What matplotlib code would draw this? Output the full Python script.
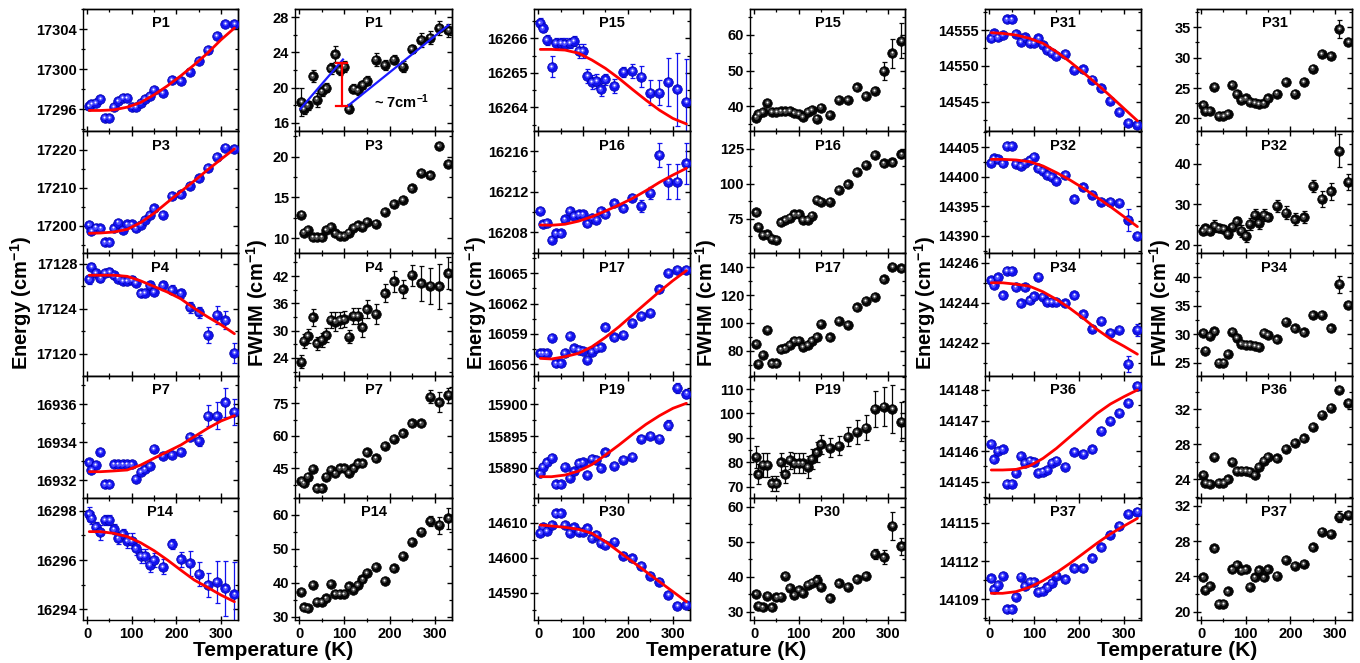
import matplotlib
matplotlib.use('Agg')
import matplotlib.pyplot as plt
import matplotlib.transforms as mtransforms
from matplotlib.ticker import FixedLocator, MultipleLocator, NullFormatter

plt.rcParams['font.family'] = ['Liberation Sans', 'DejaVu Sans']
plt.rcParams['font.weight'] = 'bold'
plt.rcParams['mathtext.fontset'] = 'custom'
plt.rcParams['mathtext.rm'] = 'Liberation Sans:bold'
plt.rcParams['mathtext.bf'] = 'Liberation Sans:bold'
plt.rcParams['mathtext.default'] = 'bf'

# ---------------- data ----------------
T = [5, 10, 20, 30, 40, 50, 60, 70, 80, 90, 100, 110, 120, 130, 140, 150,
     170, 190, 210, 230, 250, 270, 290, 310, 330]
T_fit = [5, 30, 60, 90, 120, 150, 180, 210, 240, 270, 300, 330]
x_ticks = [0, 100, 200, 300]

p1_E = [17296.3, 17296.5, 17296.6, 17297.0, 17295.1, 17295.1, 17296.2, 17296.8, 17297.1, 17297.1, 17296.2, 17296.2, 17296.6, 17297.0, 17297.3, 17297.9, 17297.6, 17298.9, 17298.8, 17299.7, 17300.8, 17301.9, 17303.3, 17304.5, 17304.5]
p1_fit = [17295.87, 17295.87, 17295.93, 17296.2, 17296.67, 17297.43, 17298.33, 17299.33, 17300.43, 17301.6, 17302.93, 17304.1]
p1_W = [18.4, 17.6, 18.0, 21.3, 18.65, 19.6, 20.0, 22.2, 23.8, 22.0, 22.4, 17.6, 19.9, 19.7, 20.3, 20.8, 23.2, 22.6, 23.2, 22.4, 24.4, 25.4, 25.7, 26.8, 26.5]
p1_W_err = [1.6, 0.6, 0.5, 0.7, 0.8, 0.5, 0.5, 0.6, 0.9, 0.6, 0.6, 0.5, 0.5, 0.5, 0.5, 0.5, 0.7, 0.6, 0.5, 0.6, 0.5, 0.8, 0.7, 0.8, 0.7]

p3_E = [17200.3, 17198.7, 17199.6, 17199.4, 17195.7, 17195.7, 17199.4, 17200.9, 17198.9, 17200.4, 17200.4, 17199.4, 17200.3, 17201.6, 17202.9, 17204.6, 17202.9, 17207.9, 17208.3, 17210.5, 17212.5, 17215.2, 17218.2, 17220.6, 17220.3]
p3_fit = [17198.07, 17198.16, 17198.42, 17199.12, 17200.88, 17203.33, 17206.23, 17209.04, 17211.84, 17214.74, 17217.54, 17220.26]
p3_W = [12.9, 10.7, 11.0, 10.1, 10.1, 10.1, 11.0, 11.4, 10.6, 10.3, 10.3, 10.7, 11.3, 11.6, 11.4, 12.0, 11.8, 13.2, 14.2, 14.7, 16.1, 18.0, 17.7, 21.3, 19.1]

p4_E = [17126.64, 17127.76, 17127.23, 17126.73, 17127.2, 17127.3, 17127.0, 17126.7, 17126.5, 17126.5, 17126.6, 17126.3, 17125.4, 17125.45, 17126.1, 17125.5, 17126.1, 17125.7, 17125.4, 17124.15, 17123.7, 17121.7, 17123.5, 17123.0, 17120.1]
p4_E_err = [0.4, 0.3, 0.3, 0.3, 0.3, 0.3, 0.3, 0.3, 0.3, 0.3, 0.3, 0.3, 0.3, 0.3, 0.4, 0.3, 0.4, 0.4, 0.4, 0.5, 0.5, 0.7, 0.8, 0.8, 0.9]
p4_fit = [17127.0, 17127.0, 17127.0, 17126.9, 17126.5, 17126.0, 17125.5, 17124.9, 17124.06, 17123.3, 17122.6, 17121.8]
p4_W = [23.2, 27.8, 28.8, 32.9, 27.2, 28.0, 29.1, 32.4, 32.0, 32.4, 32.5, 28.7, 33.2, 33.2, 30.7, 34.7, 33.7, 38.2, 40.8, 39.1, 42.2, 40.4, 39.8, 39.7, 42.6]
p4_W_err = [1.5, 1.5, 1.5, 1.8, 1.5, 1.5, 1.5, 1.8, 2.0, 1.8, 1.8, 1.5, 1.8, 1.8, 2.0, 2.0, 2.2, 2.0, 2.2, 2.0, 2.3, 3.8, 4.0, 5.0, 3.5]

p7_E = [16932.93, 16932.53, 16932.8, 16933.5, 16931.77, 16931.77, 16932.83, 16932.83, 16932.83, 16932.83, 16932.83, 16932.05, 16932.44, 16932.56, 16932.76, 16933.64, 16933.27, 16933.32, 16933.5, 16934.29, 16934.08, 16935.4, 16935.4, 16936.1, 16935.6]
p7_E_err = [0.05, 0.05, 0.05, 0.05, 0.05, 0.05, 0.05, 0.05, 0.05, 0.05, 0.05, 0.05, 0.05, 0.05, 0.05, 0.05, 0.05, 0.05, 0.05, 0.15, 0.3, 0.55, 0.7, 0.75, 0.68]
p7_fit = [16932.44, 16932.44, 16932.48, 16932.53, 16932.79, 16933.15, 16933.5, 16933.85, 16934.29, 16934.73, 16935.12, 16935.4]
p7_W = [39.2, 38.1, 41.2, 44.7, 35.8, 35.8, 41.2, 44.2, 42.7, 45.0, 45.0, 43.0, 45.0, 47.3, 47.3, 52.4, 49.6, 55.3, 58.5, 61.2, 65.8, 65.8, 78.1, 75.5, 78.8]
p7_W_err = [0.0, 0.0, 0.0, 0.0, 0.0, 0.0, 0.0, 0.0, 0.0, 0.0, 0.0, 0.0, 0.0, 0.0, 0.0, 0.0, 0.0, 0.0, 0.0, 0.0, 0.0, 1.0, 3.0, 4.5, 3.5]

p14_E = [16297.86, 16297.69, 16297.35, 16297.12, 16297.62, 16297.62, 16297.24, 16296.88, 16297.05, 16296.78, 16296.78, 16296.47, 16296.16, 16296.16, 16295.8, 16296.0, 16295.73, 16296.64, 16296.03, 16295.86, 16295.43, 16294.99, 16295.12, 16294.85, 16294.61]
p14_E_err = [0.3, 0.25, 0.2, 0.3, 0.2, 0.2, 0.2, 0.25, 0.2, 0.3, 0.3, 0.25, 0.3, 0.3, 0.3, 0.3, 0.3, 0.2, 0.3, 0.5, 0.5, 0.5, 0.85, 1.1, 1.3]
p14_fit = [16297.15, 16297.15, 16297.08, 16296.95, 16296.7, 16296.38, 16296.0, 16295.59, 16295.19, 16294.89, 16294.58, 16294.31]
p14_W = [37.4, 32.8, 32.5, 39.3, 34.4, 34.4, 35.4, 39.6, 36.7, 36.7, 36.7, 39.0, 37.9, 39.3, 41.0, 43.0, 44.7, 40.5, 44.3, 47.9, 52.1, 55.1, 58.3, 57.0, 59.0]
p14_W_err = [0.0, 0.0, 0.0, 0.0, 0.0, 0.0, 0.0, 0.0, 0.0, 0.0, 0.0, 0.0, 0.0, 0.0, 0.0, 0.0, 0.0, 0.0, 0.0, 0.0, 0.0, 1.0, 1.5, 2.5, 3.0]

p15_E = [16266.45, 16266.29, 16265.95, 16265.18, 16265.87, 16265.87, 16265.85, 16265.87, 16265.93, 16265.64, 16265.64, 16264.91, 16264.74, 16264.77, 16264.52, 16264.81, 16264.62, 16265.03, 16265.06, 16264.89, 16264.43, 16264.43, 16264.74, 16264.52, 16264.16]
p15_E_err = [0.15, 0.1, 0.15, 0.3, 0.15, 0.15, 0.15, 0.15, 0.15, 0.2, 0.2, 0.2, 0.2, 0.2, 0.2, 0.15, 0.2, 0.15, 0.2, 0.3, 0.35, 0.35, 0.7, 1.05, 1.25]
p15_fit = [16265.68, 16265.68, 16265.66, 16265.57, 16265.37, 16265.13, 16264.84, 16264.52, 16264.21, 16263.92, 16263.68, 16263.52]
p15_W = [36.8, 37.9, 38.4, 40.9, 38.4, 38.4, 38.5, 38.5, 38.6, 38.1, 37.9, 37.0, 38.4, 38.9, 36.5, 39.6, 37.5, 41.7, 41.7, 45.3, 42.8, 44.3, 49.9, 54.8, 58.4]
p15_W_err = [0.0, 0.0, 0.0, 0.0, 0.0, 0.0, 0.0, 0.0, 0.0, 0.0, 0.0, 0.0, 0.0, 0.0, 0.0, 0.0, 0.0, 0.0, 0.0, 0.0, 0.0, 1.0, 2.5, 4.0, 5.0]

p16_E = [16210.1, 16208.8, 16208.95, 16207.25, 16207.9, 16207.9, 16209.28, 16210.1, 16209.64, 16209.77, 16209.77, 16208.9, 16209.4, 16209.2, 16210.1, 16209.77, 16210.85, 16210.36, 16211.4, 16210.6, 16211.9, 16215.6, 16213.0, 16213.0, 16214.8]
p16_E_err = [0.3, 0.3, 0.3, 0.3, 0.3, 0.3, 0.3, 0.3, 0.3, 0.3, 0.3, 0.3, 0.3, 0.3, 0.3, 0.3, 0.3, 0.3, 0.3, 0.6, 0.6, 1.2, 1.7, 1.7, 2.0]
p16_fit = [16208.72, 16208.7, 16208.8, 16209.1, 16209.54, 16210.1, 16210.69, 16211.34, 16212.1, 16212.92, 16213.64, 16214.3]
p16_W = [79.8, 69.5, 63.6, 64.0, 60.7, 60.0, 72.6, 74.3, 76.0, 78.3, 78.3, 74.3, 74.3, 77.4, 88.6, 87.4, 87.4, 95.7, 99.8, 108.8, 113.6, 120.7, 114.8, 115.5, 121.2]
p16_W_err = [0.0, 0.0, 0.0, 0.0, 0.0, 0.0, 0.0, 0.0, 0.0, 0.0, 0.0, 0.0, 0.0, 0.0, 0.0, 0.0, 0.0, 0.0, 0.0, 0.0, 0.0, 0.0, 2.0, 3.0, 3.0]

p17_E = [16057.06, 16057.06, 16057.06, 16058.6, 16056.07, 16056.07, 16057.13, 16058.78, 16057.56, 16057.4, 16057.32, 16056.4, 16057.2, 16057.56, 16057.66, 16059.64, 16058.65, 16058.88, 16060.1, 16060.77, 16061.1, 16063.42, 16065.07, 16065.34, 16065.34]
p17_fit = [16056.56, 16056.5, 16056.73, 16057.06, 16057.72, 16058.65, 16059.7, 16060.87, 16062.03, 16063.19, 16064.28, 16065.27]
p17_W = [84.8, 70.4, 76.9, 94.9, 70.9, 70.9, 81.0, 81.7, 84.1, 87.2, 87.2, 82.9, 84.1, 87.2, 90.1, 99.2, 89.6, 101.6, 98.5, 111.2, 116.0, 118.8, 131.3, 140.4, 139.2]

p19_E = [15889.1, 15890.16, 15890.84, 15891.58, 15887.37, 15887.37, 15890.16, 15888.4, 15889.4, 15890.7, 15890.84, 15888.9, 15891.37, 15891.2, 15889.9, 15892.4, 15890.3, 15891.2, 15891.74, 15894.5, 15895.05, 15894.6, 15896.7, 15902.6, 15901.7]
p19_E_err = [0.3, 0.3, 0.3, 0.3, 0.3, 0.3, 0.3, 0.3, 0.3, 0.3, 0.3, 0.3, 0.3, 0.3, 0.3, 0.3, 0.3, 0.3, 0.3, 0.3, 0.5, 0.5, 0.8, 0.8, 0.7]
p19_fit = [15888.58, 15888.58, 15888.84, 15889.47, 15890.5, 15892.0, 15893.58, 15895.26, 15896.84, 15898.2, 15899.37, 15900.16]
p19_W = [82.3, 75.1, 78.9, 78.9, 71.4, 71.4, 80.0, 75.1, 80.9, 79.6, 79.6, 79.6, 78.2, 81.3, 84.1, 87.3, 86.0, 86.8, 90.5, 92.5, 94.2, 101.8, 102.8, 101.8, 96.6]
p19_W_err = [4.5, 4.0, 5.0, 5.0, 3.0, 3.0, 4.0, 3.5, 3.5, 4.0, 4.0, 4.0, 4.5, 4.0, 4.0, 4.0, 4.0, 4.0, 4.0, 5.0, 5.0, 7.5, 8.0, 10.0, 8.0]

p30_E = [14607.1, 14608.9, 14607.7, 14609.3, 14612.7, 14612.7, 14609.3, 14607.0, 14608.7, 14607.4, 14607.4, 14608.4, 14605.5, 14606.5, 14604.3, 14603.6, 14604.6, 14600.5, 14599.8, 14597.6, 14594.8, 14593.1, 14589.3, 14586.2, 14586.5]
p30_fit = [14609.33, 14609.05, 14608.67, 14608.1, 14606.95, 14604.57, 14601.7, 14598.86, 14596.0, 14593.14, 14590.3, 14587.43]
p30_W = [35.05, 31.6, 31.2, 34.5, 31.2, 34.1, 34.3, 40.2, 36.7, 34.8, 36.2, 35.4, 37.6, 38.3, 38.9, 37.0, 33.8, 38.1, 37.1, 39.2, 40.2, 46.5, 45.5, 54.5, 48.6]
p30_W_err = [0.0, 0.0, 0.0, 0.0, 0.0, 0.0, 0.0, 0.0, 0.0, 0.0, 0.0, 0.0, 0.0, 0.0, 1.5, 0.0, 0.0, 0.0, 0.0, 0.0, 1.0, 1.5, 2.0, 4.0, 2.5]

p31_E = [14553.84, 14554.53, 14553.98, 14554.3, 14556.5, 14556.5, 14554.44, 14553.37, 14553.98, 14553.23, 14553.23, 14553.84, 14552.9, 14552.2, 14551.84, 14551.37, 14551.65, 14549.42, 14549.5, 14548.1, 14546.86, 14545.14, 14543.6, 14542.07, 14541.74]
p31_fit = [14554.63, 14554.53, 14554.3, 14553.84, 14553.14, 14551.98, 14550.58, 14549.05, 14547.47, 14545.8, 14544.07, 14542.35]
p31_W = [22.2, 21.26, 21.26, 25.2, 20.4, 20.4, 20.7, 25.5, 24.0, 23.0, 23.3, 22.7, 22.6, 22.4, 22.5, 23.3, 24.1, 26.0, 24.1, 26.0, 28.2, 30.6, 30.3, 34.7, 32.6]
p31_W_err = [0.0, 0.0, 0.0, 0.0, 0.0, 0.0, 0.0, 0.0, 0.0, 0.0, 0.0, 0.0, 0.0, 0.0, 0.0, 0.0, 0.0, 0.0, 0.0, 0.0, 0.0, 0.0, 0.0, 1.5, 0.0]

p32_E = [14402.39, 14403.12, 14402.95, 14402.27, 14405.2, 14405.2, 14402.16, 14401.82, 14402.39, 14402.8, 14403.4, 14401.43, 14401.04, 14400.3, 14400.02, 14399.35, 14400.3, 14396.2, 14398.2, 14396.9, 14395.8, 14395.8, 14395.6, 14392.7, 14390.0]
p32_E_err = [0.0, 0.0, 0.0, 0.0, 0.0, 0.0, 0.0, 0.0, 0.0, 0.0, 0.0, 0.0, 0.0, 0.0, 0.0, 0.0, 0.0, 0.0, 0.0, 0.0, 0.0, 0.0, 0.0, 1.8, 0.0]
p32_fit = [14402.95, 14402.95, 14402.84, 14402.56, 14401.82, 14400.7, 14399.46, 14398.05, 14396.53, 14394.95, 14393.27, 14391.58]
p32_W = [23.5, 24.1, 23.5, 24.7, 24.1, 23.9, 22.7, 24.5, 25.8, 23.5, 22.2, 25.2, 27.4, 25.5, 27.4, 26.8, 29.6, 28.0, 26.3, 26.8, 34.6, 31.3, 33.2, 43.3, 35.6]
p32_W_err = [1.0, 1.0, 1.0, 1.5, 1.0, 1.0, 1.0, 1.0, 1.0, 1.5, 1.5, 1.5, 1.5, 1.5, 1.5, 1.0, 1.5, 1.5, 1.5, 1.5, 1.5, 2.0, 2.0, 4.0, 2.0]

p34_E = [14245.13, 14244.88, 14245.27, 14244.38, 14245.6, 14245.6, 14244.77, 14243.97, 14244.77, 14244.13, 14244.33, 14245.3, 14244.3, 14244.05, 14244.05, 14244.05, 14243.97, 14244.38, 14243.43, 14242.7, 14243.1, 14242.5, 14242.65, 14240.95, 14242.65]
p34_E_err = [0.0, 0.0, 0.0, 0.0, 0.0, 0.0, 0.0, 0.0, 0.0, 0.0, 0.0, 0.0, 0.0, 0.0, 0.0, 0.0, 0.0, 0.0, 0.0, 0.0, 0.0, 0.0, 0.0, 0.4, 0.3]
p34_fit = [14245.0, 14245.0, 14244.93, 14244.83, 14244.55, 14244.17, 14243.72, 14243.22, 14242.67, 14242.2, 14241.83, 14241.43]
p34_W = [30.2, 27.1, 29.7, 30.5, 25.0, 25.0, 26.5, 30.4, 29.3, 28.3, 28.1, 28.1, 27.9, 27.8, 30.2, 29.9, 29.1, 32.2, 31.0, 30.3, 33.4, 33.4, 31.0, 38.8, 35.1]
p34_W_err = [0.0, 0.0, 0.0, 0.0, 0.0, 0.0, 0.0, 0.0, 0.0, 0.0, 0.0, 0.0, 0.0, 0.0, 0.0, 0.0, 0.0, 0.0, 0.0, 0.0, 0.0, 0.0, 0.0, 1.5, 0.0]

p36_E = [14146.23, 14145.73, 14146.01, 14146.06, 14144.92, 14144.92, 14145.29, 14145.84, 14145.62, 14145.69, 14145.65, 14145.29, 14145.33, 14145.38, 14145.62, 14145.69, 14145.49, 14145.98, 14145.9, 14146.06, 14146.67, 14146.99, 14147.25, 14147.58, 14148.13]
p36_fit = [14145.38, 14145.38, 14145.4, 14145.51, 14145.76, 14146.09, 14146.47, 14146.85, 14147.23, 14147.54, 14147.78, 14148.0]
p36_W = [24.5, 23.6, 23.5, 26.6, 23.6, 23.6, 24.0, 26.0, 25.0, 25.0, 25.0, 24.9, 24.5, 25.4, 26.1, 26.6, 26.4, 27.5, 28.2, 28.7, 30.0, 31.4, 32.2, 34.2, 32.7]

p37_E = [14110.64, 14109.78, 14110.12, 14110.83, 14108.22, 14108.22, 14109.21, 14110.78, 14110.04, 14110.38, 14110.38, 14109.6, 14109.68, 14109.94, 14110.31, 14110.83, 14110.57, 14111.43, 14111.43, 14112.21, 14113.07, 14114.04, 14114.74, 14115.68, 14115.87]
p37_fit = [14109.47, 14109.47, 14109.6, 14109.94, 14110.46, 14111.09, 14111.82, 14112.6, 14113.39, 14114.12, 14114.74, 14115.34]
p37_W = [23.9, 22.5, 22.9, 27.2, 20.9, 20.9, 22.3, 24.8, 25.3, 24.7, 24.8, 22.8, 23.9, 24.7, 23.9, 24.8, 24.1, 25.9, 25.2, 25.4, 27.3, 29.1, 28.8, 30.8, 31.0]
p37_W_err = [0.0, 0.0, 0.0, 0.0, 0.0, 0.0, 0.0, 0.0, 0.0, 0.0, 0.0, 0.0, 0.0, 0.0, 0.0, 0.0, 0.0, 0.0, 0.0, 0.0, 0.0, 0.0, 0.0, 0.6, 0.0]

# annotation in the P1 FWHM panel
p1_jump_label = '~ 7cm$^{-1}$'
p1_line_low = ([3, 97], [17.6, 23.2])
p1_line_high = ([107, 330], [17.9, 27.1])
p1_jump = (94, 17.9, 22.75)

# ---------------- layout ----------------
W, H = 1360, 663
fig = plt.figure(figsize=(W / 100, H / 100), dpi=100)
COLS = [(83, 238), (295, 452), (534, 690), (750, 905), (985, 1141), (1197, 1352)]
TOP, RH = 9, 122.2
XLIM = (-9, 338)

# (col, row, title, values, errors, fit, ylim, yticks, minor step, kind)
panels = [
    (0, 0, 'P1', p1_E, None, p1_fit, (17293.8, 17306.0), [17296, 17300, 17304], 2, 'E'),
    (1, 0, 'P1', p1_W, p1_W_err, None, (15.06, 28.94), [16, 20, 24, 28], 2, 'W'),
    (0, 1, 'P3', p3_E, None, p3_fit, (17192.8, 17224.9), [17200, 17210, 17220], 5, 'E'),
    (1, 1, 'P3', p3_W, None, None, (8.15, 23.1), [10, 15, 20], 2.5, 'W'),
    (0, 2, 'P4', p4_E, p4_E_err, p4_fit, (17118.08, 17128.94), [17120, 17124, 17128], 2, 'E'),
    (1, 2, 'P4', p4_W, p4_W_err, None, (20.13, 46.97), [24, 30, 36, 42], 3, 'W'),
    (0, 3, 'P7', p7_E, p7_E_err, p7_fit, (16931.06, 16937.52), [16932, 16934, 16936], 1, 'E'),
    (1, 3, 'P7', p7_W, p7_W_err, None, (31.4, 87.8), [45, 60, 75], 7.5, 'W'),
    (0, 4, 'P14', p14_E, p14_E_err, p14_fit, (16293.57, 16298.52), [16294, 16296, 16298], 1, 'E'),
    (1, 4, 'P14', p14_W, p14_W_err, None, (29.03, 65.07), [30, 40, 50, 60], 5, 'W'),
    (2, 0, 'P15', p15_E, p15_E_err, p15_fit, (16263.31, 16266.85), [16264, 16265, 16266], 0.5, 'E'),
    (3, 0, 'P15', p15_W, p15_W_err, None, (32.96, 67.3), [40, 50, 60], 5, 'W'),
    (2, 1, 'P16', p16_E, p16_E_err, p16_fit, (16205.93, 16217.95), [16208, 16212, 16216], 2, 'E'),
    (3, 1, 'P16', p16_W, p16_W_err, None, (50.4, 137.7), [75, 100, 125], 12.5, 'W'),
    (2, 2, 'P17', p17_E, None, p17_fit, (16054.85, 16066.98), [16056, 16059, 16062, 16065], 1.5, 'E'),
    (3, 2, 'P17', p17_W, None, None, (62.1, 150.0), [80, 100, 120, 140], 10, 'W'),
    (2, 3, 'P19', p19_E, p19_E_err, p19_fit, (15885.25, 15904.53), [15890, 15895, 15900], 2.5, 'E'),
    (3, 3, 'P19', p19_W, p19_W_err, None, (65.45, 115.5), [70, 80, 90, 100, 110], 5, 'W'),
    (2, 4, 'P30', p30_E, None, p30_fit, (14582.2, 14617.1), [14590, 14600, 14610], 5, 'E'),
    (3, 4, 'P30', p30_W, p30_W_err, None, (27.6, 62.5), [30, 40, 50, 60], 5, 'W'),
    (4, 0, 'P31', p31_E, None, p31_fit, (14540.9, 14557.93), [14545, 14550, 14555], 2.5, 'E'),
    (5, 0, 'P31', p31_W, p31_W_err, None, (17.9, 38.0), [20, 25, 30, 35], 2.5, 'W'),
    (4, 1, 'P32', p32_E, p32_E_err, p32_fit, (14387.06, 14407.7), [14390, 14395, 14400, 14405], 2.5, 'E'),
    (5, 1, 'P32', p32_W, p32_W_err, None, (17.9, 48.1), [20, 30, 40], 5, 'W'),
    (4, 2, 'P34', p34_E, p34_E_err, p34_fit, (14240.36, 14246.47), [14242, 14244, 14246], 1, 'E'),
    (5, 2, 'P34', p34_W, p34_W_err, None, (22.7, 44.2), [25, 30, 35, 40], 2.5, 'W'),
    (4, 3, 'P36', p36_E, None, p36_fit, (14144.47, 14148.47), [14145, 14146, 14147, 14148], 0.5, 'E'),
    (5, 3, 'P36', p36_W, None, None, (21.9, 35.85), [24, 28, 32], 2, 'W'),
    (4, 4, 'P37', p37_E, None, p37_fit, (14107.38, 14116.95), [14109, 14112, 14115], 1.5, 'E'),
    (5, 4, 'P37', p37_W, p37_W_err, None, (19.06, 32.93), [20, 24, 28, 32], 2, 'W'),
]


def add_panel(c, r):
    l, rr = COLS[c]
    top = TOP + r * RH
    return fig.add_axes([l / W, 1 - (top + RH) / H, (rr - l) / W, RH / H])


def draw_balls(ax, x, y, err, kind):
    if kind == 'E':
        base, mid, edge = '#1212ee', '#5050ff', '#0000a8'
    else:
        base, mid, edge = '#060606', '#4a4a4a', '#000000'
    if err is not None:
        ax.errorbar(x, y, yerr=err, fmt='none', ecolor=base, elinewidth=0.9,
                    capsize=1.8, capthick=0.9, zorder=2)
    ax.plot(x, y, 'o', ls='none', ms=6.9, mfc=base, mec=edge, mew=0.5, zorder=3)
    off = ax.transData + mtransforms.ScaledTranslation(-0.5 / 72, 0.5 / 72, fig.dpi_scale_trans)
    ax.plot(x, y, 'o', ls='none', ms=3.4, mfc=mid, mec='none', zorder=4, transform=off)
    off2 = ax.transData + mtransforms.ScaledTranslation(-0.6 / 72, 0.8 / 72, fig.dpi_scale_trans)
    ax.plot(x, y, 'o', ls='none', ms=1.4, mfc='white', mec='none', zorder=5, transform=off2)


axes = {}
for (c, r, title, vals, err, fit, ylim, yt, ymin, kind) in panels:
    ax = add_panel(c, r)
    axes[(c, r)] = ax
    draw_balls(ax, T, vals, err, kind)
    if fit is not None:
        ax.plot(T_fit, fit, '-', color='#ff0000', lw=2.0, zorder=6, solid_capstyle='round')
    ax.set_xlim(*XLIM)
    ax.set_ylim(*ylim)
    ax.xaxis.set_major_locator(FixedLocator(x_ticks))
    ax.xaxis.set_minor_locator(MultipleLocator(50))
    ax.yaxis.set_major_locator(FixedLocator(yt))
    ax.yaxis.set_minor_locator(MultipleLocator(ymin))
    ax.yaxis.set_major_formatter(matplotlib.ticker.FuncFormatter(lambda v, p: '%g' % v))
    xdir = 'inout' if r == 4 else 'in'
    ax.tick_params(axis='x', which='major', direction=xdir, length=5.5 if r == 4 else 3.5,
                   width=1.0, labelsize=10.5, pad=2, bottom=True, top=False)
    ax.tick_params(axis='x', which='minor', direction=xdir, length=3.5 if r == 4 else 2.2,
                   width=0.9, bottom=True, top=False)
    ax.tick_params(axis='y', which='major', direction='inout', length=5.5, width=1.0,
                   labelsize=10.5, pad=1.5, left=True, right=False)
    ax.tick_params(axis='y', which='minor', direction='inout', length=3.5, width=0.9,
                   left=True, right=False)
    if r != 4:
        ax.tick_params(axis='x', labelbottom=False)
    for lab in ax.get_xticklabels() + ax.get_yticklabels():
        lab.set_fontweight('bold')
    # mirrored ticks on top / right, pointing inward
    sy = ax.secondary_yaxis('right')
    sy.yaxis.set_major_locator(FixedLocator(yt))
    sy.yaxis.set_minor_locator(MultipleLocator(ymin))
    sy.tick_params(which='major', direction='in', length=3.5, width=1.0, labelright=False)
    sy.tick_params(which='minor', direction='in', length=2.2, width=0.9)
    sy.yaxis.set_major_formatter(NullFormatter())
    sx = ax.secondary_xaxis('top')
    sx.xaxis.set_major_locator(FixedLocator(x_ticks))
    sx.xaxis.set_minor_locator(MultipleLocator(50))
    sx.tick_params(which='major', direction='in', length=3.5, width=1.0, labeltop=False)
    sx.tick_params(which='minor', direction='in', length=2.2, width=0.9)
    sx.xaxis.set_major_formatter(NullFormatter())
    for sp in ax.spines.values():
        sp.set_linewidth(1.0)
    sy.spines['right'].set_linewidth(1.0)
    sx.spines['top'].set_linewidth(1.0)
    ax.text(0.5, 0.85, title, transform=ax.transAxes, ha='center', va='baseline',
            fontsize=10.5, fontweight='bold', zorder=10)

# annotation in P1 FWHM
axw = axes[(1, 0)]
axw.plot(p1_line_low[0], p1_line_low[1], '-', color='#1a1aff', lw=1.6, zorder=6)
axw.plot(p1_line_high[0], p1_line_high[1], '-', color='#1a1aff', lw=1.6, zorder=6)
jx, jlo, jhi = p1_jump
axw.plot([jx, jx], [jlo, jhi], '-', color='#ff0000', lw=1.6, zorder=7)
axw.plot([jx - 12, jx + 12], [jhi, jhi], '-', color='#ff0000', lw=1.6, zorder=7)
axw.plot([jx - 12, jx + 12], [jlo, jlo], '-', color='#ff0000', lw=1.6, zorder=7)
axw.text(165, 17.65, p1_jump_label, ha='left', va='baseline', fontsize=10.5, fontweight='bold', zorder=10)

# axis titles
for xc in (21, 476, 925):
    fig.text(xc / W, 1 - 303 / H, 'Energy (cm$^{-1}$)', rotation=90, ha='center', va='center',
             fontsize=14.5, fontweight='bold')
for xc in (257, 706, 1160):
    fig.text(xc / W, 1 - 303 / H, 'FWHM (cm$^{-1}$)', rotation=90, ha='center', va='center',
             fontsize=14.5, fontweight='bold')
for xc in (273, 726, 1177):
    fig.text(xc / W, 1 - 650 / H, 'Temperature (K)', ha='center', va='center',
             fontsize=15, fontweight='bold')

fig.savefig('out.png', dpi=100)
